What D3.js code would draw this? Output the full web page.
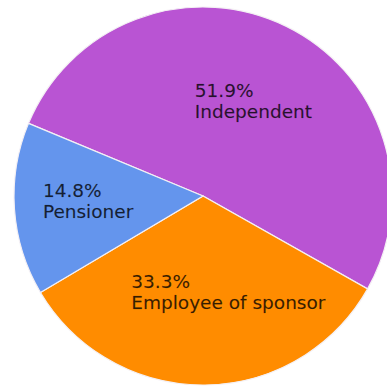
<!DOCTYPE html>
<html>
<head>
<meta charset="utf-8">
<script src="https://cdn.jsdelivr.net/npm/d3@7"></script>
<style>
  html, body { margin: 0; padding: 0; background: #fff; }
  svg { display: block; }
</style>
</head>
<body>
<svg id="chart" width="387" height="390"></svg>
<script>
// Share of participants by status
const categories = ["Independent", "Employee of sponsor", "Pensioner"];
const shares = [51.9, 33.3, 14.8];
const sliceColors = ["#B954D3", "#FF8C00", "#6495ED"];

const width = 387, height = 390;
const cx = 203, cy = 196, radius = 189;
const startDeg = -67.4;

const svg = d3.select("#chart");
const g = svg.append("g").attr("transform", `translate(${cx},${cy})`);

const pie = d3.pie()
  .sort(null)
  .value(d => d.value)
  .startAngle(startDeg * Math.PI / 180)
  .endAngle((startDeg + 360) * Math.PI / 180);

const rows = categories.map((c, i) => ({ name: c, value: shares[i], color: sliceColors[i] }));
const arcs = pie(rows);

const arc = d3.arc().innerRadius(0).outerRadius(radius);

g.selectAll("path.slice")
  .data(arcs)
  .join("path")
  .attr("class", "slice")
  .attr("d", arc)
  .attr("fill", d => d.data.color)
  .attr("stroke", "#f4f0f4")
  .attr("stroke-width", 1.2);

// Label blocks: anchored near each slice centroid, left-aligned text
const labelArc = d3.arc().innerRadius(0).outerRadius(radius * 1.2);
const blockShift = {
  "Independent": [-58, 3],
  "Employee of sponsor": [-73, -21],
  "Pensioner": [-47, -7]
};

const fontSize = 18.5;
const labels = g.selectAll("g.label")
  .data(arcs)
  .join("g")
  .attr("class", "label")
  .attr("transform", d => {
    const [x, y] = labelArc.centroid(d);
    const s = blockShift[d.data.name];
    return `translate(${x + s[0]},${y + s[1]})`;
  });

labels.append("text")
  .attr("font-family", "DejaVu Sans, Verdana, sans-serif")
  .attr("font-size", fontSize)
  .attr("fill", "#000")
  .attr("fill-opacity", 0.78)
  .attr("stroke", "#000")
  .attr("stroke-opacity", 0.25)
  .attr("stroke-width", 0.4)
  .each(function(d) {
    const t = d3.select(this);
    t.append("tspan").attr("x", 0).attr("y", 0).text(d3.format(".1f")(d.data.value) + "%");
    t.append("tspan").attr("x", 0).attr("y", 21).text(d.data.name);
  });
</script>
</body>
</html>
